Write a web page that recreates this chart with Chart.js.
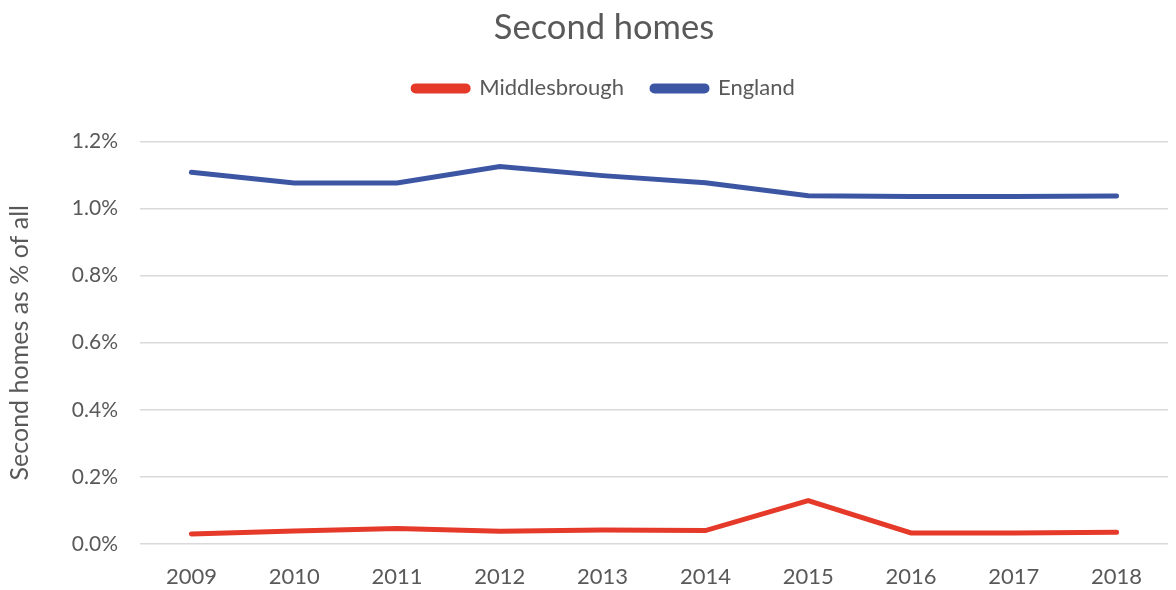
<!DOCTYPE html>
<html>
<head>
<meta charset="utf-8">
<script src="https://cdn.jsdelivr.net/npm/chart.js@4/dist/chart.umd.min.js"></script>
<style>
  html, body { margin: 0; padding: 0; background: #fff; }
  #wrap { width: 1176px; height: 590px; }
</style>
</head>
<body>
<div id="wrap"><canvas id="chartCanvas" width="1176" height="590"></canvas></div>
<script>
// Chart data
const years = ['2009', '2010', '2011', '2012', '2013', '2014', '2015', '2016', '2017', '2018'];
const middlesbrough = [0.030, 0.039, 0.046, 0.038, 0.042, 0.040, 0.129, 0.033, 0.033, 0.035];
const england = [1.108, 1.076, 1.076, 1.125, 1.098, 1.077, 1.038, 1.036, 1.036, 1.037];

const textColor = '#595959';
const fontFamily = 'Lato, "Open Sans", sans-serif';

// Push the plot area down a bit below the legend
const legendGap = {
    id: 'legendGap',
    beforeInit: function(chart) {
        const origFit = chart.legend.fit;
        chart.legend.fit = function() {
            origFit.bind(chart.legend)();
            this.height += 32;
        };
    }
};

var ctx = document.getElementById('chartCanvas').getContext('2d');
var homesChart = new Chart(ctx, {
    type: 'line',
    data: {
        labels: years,
        datasets: [
            {
                label: 'Middlesbrough',
                data: middlesbrough,
                borderColor: '#E5392A',
                backgroundColor: '#E5392A',
                borderWidth: 5,
                pointRadius: 0,
                borderCapStyle: 'round',
                fill: false
            },
            {
                label: 'England',
                data: england,
                borderColor: '#3C56A4',
                backgroundColor: '#3C56A4',
                borderWidth: 5,
                pointRadius: 0,
                borderCapStyle: 'round',
                fill: false
            }
        ]
    },
    plugins: [legendGap],
    options: {
        responsive: false,
        animation: false,
        // left padding shifts title and legend to the right, y axis width makes up for it
        layout: { padding: { left: 40, right: 8, top: 7, bottom: 0 } },
        plugins: {
            title: {
                display: true,
                text: 'Second homes',
                color: textColor,
                font: { family: fontFamily, size: 34.5, weight: 'normal' },
                padding: { top: 0, bottom: 1 }
            },
            legend: {
                position: 'top',
                labels: {
                    color: textColor,
                    font: { family: fontFamily, size: 22 },
                    boxWidth: 55,
                    boxHeight: 5,
                    useBorderRadius: true,
                    borderRadius: 2.5,
                    padding: 28
                }
            },
            tooltip: { enabled: false }
        },
        scales: {
            x: {
                offset: true,
                grid: { display: false, drawTicks: false },
                border: { display: false },
                ticks: {
                    color: textColor,
                    font: { family: fontFamily, size: 22 },
                    padding: 20,
                    maxRotation: 0
                },
                afterFit: function(scale) { scale.height = 46; }
            },
            y: {
                min: 0,
                max: 1.2,
                grid: { color: '#D9D9D9', lineWidth: 1.5, drawTicks: false },
                border: { display: false },
                ticks: {
                    stepSize: 0.2,
                    color: textColor,
                    font: { family: fontFamily, size: 21 },
                    padding: 22,
                    callback: function(value) { return value.toFixed(1) + '%'; }
                },
                title: {
                    display: true,
                    text: 'Second homes as % of all',
                    color: textColor,
                    font: { family: fontFamily, size: 25 },
                    padding: { top: -35, bottom: 0 }
                },
                afterFit: function(scale) { scale.width = 100; }
            }
        }
    }
});
</script>
</body>
</html>
